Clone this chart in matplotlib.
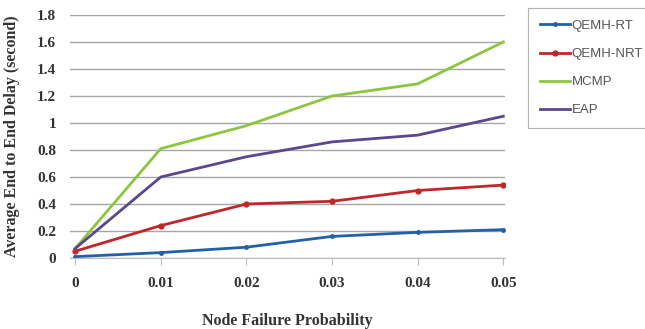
import numpy as np
import matplotlib
matplotlib.use("Agg")
import matplotlib.pyplot as plt

# data
probs = [0, 0.01, 0.02, 0.03, 0.04, 0.05]
prob_labels = ["0", "0.01", "0.02", "0.03", "0.04", "0.05"]
qemh_rt = [0.01, 0.04, 0.08, 0.16, 0.19, 0.21]
qemh_nrt = [0.05, 0.24, 0.40, 0.42, 0.50, 0.54]
mcmp = [0.07, 0.81, 0.98, 1.20, 1.29, 1.60]
eap = [0.07, 0.60, 0.75, 0.86, 0.91, 1.05]
y_ticks = [0, 0.2, 0.4, 0.6, 0.8, 1, 1.2, 1.4, 1.6, 1.8]
y_labels = ["0", "0.2", "0.4", "0.6", "0.8", "1", "1.2", "1.4", "1.6", "1.8"]

fig = plt.figure(figsize=(6.45, 3.29), dpi=100)
ax = fig.add_axes([70 / 645, 71 / 329, 435 / 645, 243 / 329])

ax.plot(probs, qemh_rt, color="#2260a8", lw=2, marker="o", ms=2.5, label="QEMH-RT")
ax.plot(probs, qemh_nrt, color="#c0262c", lw=2, marker="o", ms=3.5, label="QEMH-NRT")
ax.plot(probs, mcmp, color="#8cc63f", lw=2, label="MCMP")
ax.plot(probs, eap, color="#5b4690", lw=2, label="EAP")

ax.set_xlim(-0.0006, 0.0502)
ax.set_ylim(0, 1.8)
ax.set_xticks(probs)
ax.set_xticklabels(prob_labels)
ax.set_yticks(y_ticks)
ax.set_yticklabels(y_labels)

ax.grid(axis="y", color="#a6a6a6", lw=1)
ax.set_axisbelow(True)
for s in ["top", "right", "left"]:
    ax.spines[s].set_visible(False)
ax.spines["bottom"].set_color("#bdbdbd")
ax.tick_params(axis="y", length=0, pad=10)
ax.tick_params(axis="x", length=5, color="#bdbdbd", pad=9)

for lab in ax.get_xticklabels() + ax.get_yticklabels():
    lab.set_fontfamily("Liberation Serif")
    lab.set_fontweight("bold")
    lab.set_fontsize(11)
    lab.set_color("#333333")

ax.set_ylabel("Average End to End Delay (second)", family="Liberation Serif",
              weight="bold", size=11.5, color="#333333", labelpad=12)
ax.set_xlabel("Node Failure Probability", family="Liberation Serif",
              weight="bold", size=11.5, color="#333333", labelpad=16)

leg = fig.legend(loc="upper left", bbox_to_anchor=(528 / 645, 1 - 8 / 329),
                 borderaxespad=0, frameon=True, fancybox=False,
                 handlelength=2.3, handletextpad=0.1,
                 labelspacing=1.2, borderpad=0.9,
                 prop=dict(family="Liberation Sans", size=9.5))
leg.get_frame().set_edgecolor("#a0a0a0")
leg.get_frame().set_linewidth(0.8)
for t in leg.get_texts():
    t.set_color("#555555")

fig.savefig("out.png", dpi=100)
